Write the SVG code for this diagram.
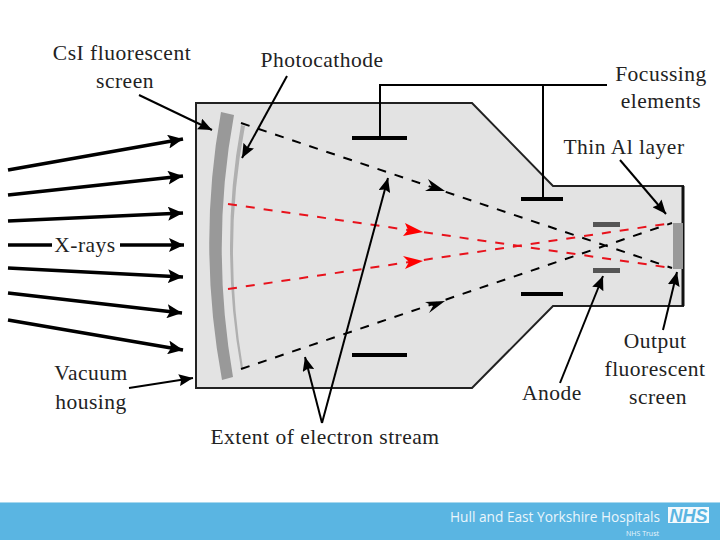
<svg xmlns="http://www.w3.org/2000/svg" width="720" height="540" viewBox="0 0 720 540">
<style>
.t{font-family:"Liberation Serif","DejaVu Serif",serif;font-size:21.5px;fill:#222;text-anchor:middle;letter-spacing:.5px}
.ray{stroke:#000;stroke-width:3.5;fill:none}
.lead{stroke:#000;stroke-width:2;fill:none}
.k{stroke:#000;stroke-width:2;stroke-dasharray:9 9;fill:none}
.r{stroke:#e8121c;stroke-width:2;stroke-dasharray:9 9;fill:none}
.bar{stroke:#000;stroke-width:4;fill:none}
.ah{fill:#000;stroke:none}
.rh{fill:#f00;stroke:none}
</style>
<defs>
<marker id="big" markerUnits="userSpaceOnUse" markerWidth="16" markerHeight="14" refX="15" refY="7" orient="auto" viewBox="0 0 16 14"><path d="M0 0L15 7L0 14L3 7Z" class="ah"/></marker>
<marker id="lead" markerUnits="userSpaceOnUse" markerWidth="15" markerHeight="12" refX="14" refY="6" orient="auto" viewBox="0 0 15 12"><path d="M0 0L14 6L0 12L2 6Z" class="ah"/></marker>
</defs>
<rect width="720" height="540" fill="#fff"/>
<g id="housing"><path d="M196 103H472L553 186H683V306H553L472 388H196Z" fill="#e3e3e3" stroke="#222" stroke-width="2"/><path d="M683 186V306" stroke="#111" stroke-width="3"/></g>
<g id="csi-screen"><path d="M221 112L234 115Q210 245 233 377L222 380Q197 245 221 112Z" fill="#999"/></g>
<g id="photocathode"><path d="M241 125L245 126Q222 245 243 368L241 369Q219 245 241 125Z" fill="#b0b0b0"/></g>
<g id="output-screen"><rect x="673" y="223" width="10" height="46" fill="#999"/></g>
<g id="anode"><rect x="593" y="222" width="27" height="5" fill="#555"/><rect x="593" y="268" width="27" height="5" fill="#555"/></g>
<g id="focussing-elements">
<path class="bar" d="M352 138H407M521 199H563M352 355H407M521 294H563"/>
<path d="M380 138V85H607M543 85V198" stroke="#000" stroke-width="2" fill="none"/>
</g>
<g id="connectors">
<path class="k" d="M241 123L672 268M241 369L672 223"/>
<path class="r" d="M228 204L672 268M228 289L672 223"/>
<path class="ah" d="M445 191L428 179L432 187L425 191Z"/>
<path class="ah" d="M445 301L425 302L433 306L429 313Z"/>
<path class="rh" d="M423 232L405 223L408 230L403 236Z"/>
<path class="rh" d="M423 261L403 256L409 262L405 269Z"/>
<path class="ray" marker-end="url(#big)" d="M8 170L183 139"/>
<path class="ray" marker-end="url(#big)" d="M8 195L183 176"/>
<path class="ray" marker-end="url(#big)" d="M8 221L183 213"/>
<path class="ray" d="M8 245H52"/>
<path class="ray" marker-end="url(#big)" d="M120 245H184"/>
<path class="ray" marker-end="url(#big)" d="M8 268L183 277"/>
<path class="ray" marker-end="url(#big)" d="M8 293L182 313"/>
<path class="ray" marker-end="url(#big)" d="M8 320L183 350"/>
<path class="lead" marker-end="url(#lead)" d="M139 95L212 130"/>
<path class="lead" marker-end="url(#lead)" d="M287 76L242 158"/>
<path class="lead" marker-end="url(#lead)" d="M620 160L666 214"/>
<path class="lead" marker-end="url(#lead)" d="M663 330L677 272"/>
<path class="lead" marker-end="url(#lead)" d="M560 383L603 276"/>
<path class="lead" marker-end="url(#lead)" d="M129 388L193 378"/>
<path class="lead" marker-end="url(#lead)" d="M322 423L388 178"/>
<path class="lead" marker-end="url(#lead)" d="M322 423L305 357"/>
</g>
<g id="labels">
<text class="t" x="122" y="60">CsI fluorescent</text>
<text class="t" x="125" y="88">screen</text>
<text class="t" x="322" y="67">Photocathode</text>
<text class="t" x="661" y="81">Focussing</text>
<text class="t" x="661" y="108">elements</text>
<text class="t" x="624" y="154">Thin Al layer</text>
<text class="t" x="85" y="252">X-rays</text>
<text class="t" x="91" y="380">Vacuum</text>
<text class="t" x="91" y="409">housing</text>
<text class="t" x="552" y="400">Anode</text>
<text class="t" x="655" y="348">Output</text>
<text class="t" x="655" y="376">fluorescent</text>
<text class="t" x="658" y="404">screen</text>
<text class="t" x="325" y="444">Extent of electron stream</text>
</g>
<g id="footer">
<rect y="502" width="720" height="38" fill="#5ab5e2"/>
<rect y="502" width="720" height="1" fill="#a8d8ee"/>
<text x="450" y="522" font-family="'Open Sans',sans-serif" font-size="13.7" fill="#eaf6fc">Hull and East Yorkshire Hospitals</text>
<text x="659" y="536" font-family="'Open Sans',sans-serif" font-size="7" fill="#eaf6fc" text-anchor="end">NHS Trust</text>
<rect x="668" y="507" width="41" height="16" fill="#f4fafd"/>
<text x="688.500" y="522" font-family="'Liberation Sans',sans-serif" font-weight="700" font-style="italic" font-size="18" fill="#5ab5e2" text-anchor="middle">NHS</text>
</g>
</svg>
